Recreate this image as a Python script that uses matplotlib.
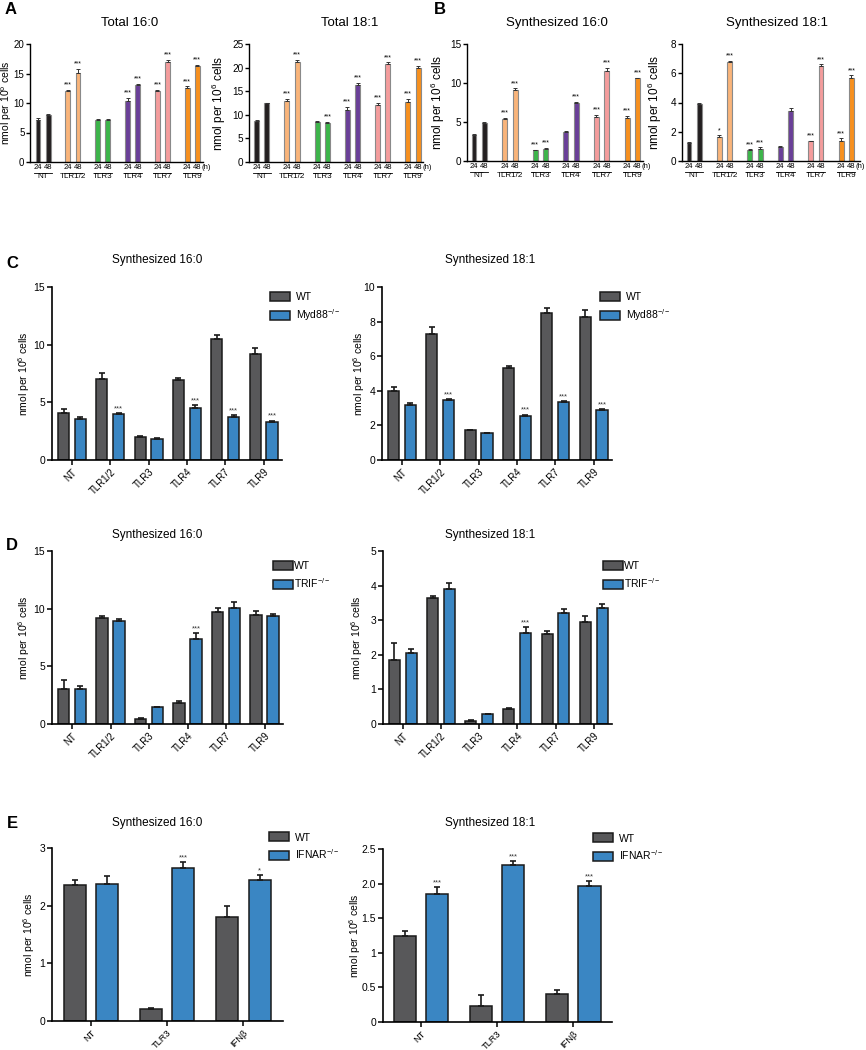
import matplotlib
matplotlib.use('Agg')
import matplotlib.pyplot as plt
import matplotlib.transforms as mtransforms
import numpy as np

plt.rcParams['font.family'] = ['Liberation Sans', 'DejaVu Sans']
plt.rcParams['mathtext.default'] = 'regular'

W, H = 866, 1050

# ---------------- data: panels A / B (24 h and 48 h) ----------------
groups_ab = ['NT', 'TLR1/2', 'TLR3', 'TLR4', 'TLR7', 'TLR9']
colors_ab = ['#231f20', '#f9b47a', '#3cb54a', '#6a3f98', '#f49c9c', '#f7901e']

tot160_24 = [7.2, 12.0, 7.2, 10.3, 12.0, 12.5]
tot160_48 = [8.0, 15.1, 7.1, 13.0, 17.0, 16.3]
tot160_e24 = [0.3, 0.25, 0.15, 0.6, 0.25, 0.3]
tot160_e48 = [0.15, 0.7, 0.2, 0.2, 0.35, 0.15]
tot160_s24 = ['', '***', '', '***', '***', '***']
tot160_s48 = ['', '***', '', '***', '***', '***']

tot181_24 = [8.7, 13.0, 8.5, 11.0, 12.1, 12.8]
tot181_48 = [12.4, 21.2, 8.2, 16.4, 20.7, 20.0]
tot181_e24 = [0.3, 0.3, 0.2, 0.6, 0.4, 0.5]
tot181_e48 = [0.15, 0.5, 0.3, 0.4, 0.4, 0.3]
tot181_s24 = ['', '***', '', '***', '***', '***']
tot181_s48 = ['', '***', '***', '***', '***', '***']

syn160_24 = [3.3, 5.4, 1.35, 3.7, 5.7, 5.5]
syn160_48 = [4.9, 9.1, 1.55, 7.4, 11.6, 10.6]
syn160_e24 = [0.15, 0.15, 0.1, 0.2, 0.2, 0.3]
syn160_e48 = [0.15, 0.2, 0.1, 0.15, 0.3, 0.1]
syn160_s24 = ['', '***', '***', '', '***', '***']
syn160_s48 = ['', '***', '***', '***', '***', '***']

syn181_24 = [1.25, 1.65, 0.75, 0.95, 1.35, 1.4]
syn181_48 = [3.9, 6.75, 0.85, 3.45, 6.5, 5.7]
syn181_e24 = [0.05, 0.1, 0.05, 0.05, 0.05, 0.15]
syn181_e48 = [0.1, 0.1, 0.08, 0.2, 0.1, 0.15]
syn181_s24 = ['', '*', '***', '', '***', '***']
syn181_s48 = ['', '***', '***', '', '***', '***']

# ---------------- data: panel C (Myd88) ----------------
groups_tlr = ['NT', 'TLR1/2', 'TLR3', 'TLR4', 'TLR7', 'TLR9']
c160_wt = [4.05, 7.05, 1.96, 6.92, 10.5, 9.2]
c160_wt_e = [0.35, 0.5, 0.08, 0.2, 0.37, 0.52]
c160_ko = [3.55, 3.95, 1.85, 4.47, 3.75, 3.3]
c160_ko_e = [0.15, 0.1, 0.08, 0.29, 0.15, 0.12]
c160_sig = ['', '***', '', '***', '***', '***']

c181_wt = [3.98, 7.31, 1.71, 5.31, 8.48, 8.25]
c181_wt_e = [0.25, 0.36, 0.03, 0.13, 0.33, 0.42]
c181_ko = [3.17, 3.46, 1.56, 2.56, 3.33, 2.87]
c181_ko_e = [0.15, 0.07, 0.02, 0.06, 0.06, 0.05]
c181_sig = ['', '***', '', '***', '***', '***']

# ---------------- data: panel D (TRIF) ----------------
d160_wt = [3.03, 9.2, 0.4, 1.79, 9.72, 9.49]
d160_wt_e = [0.8, 0.17, 0.1, 0.2, 0.35, 0.29]
d160_ko = [3.03, 8.91, 1.5, 7.41, 10.1, 9.37]
d160_ko_e = [0.26, 0.23, 0.0, 0.5, 0.49, 0.18]
d160_sig = ['', '', '', '***', '', '']

d181_wt = [1.84, 3.65, 0.1, 0.43, 2.59, 2.95]
d181_wt_e = [0.51, 0.05, 0.02, 0.04, 0.09, 0.16]
d181_ko = [2.04, 3.9, 0.3, 2.64, 3.2, 3.35]
d181_ko_e = [0.13, 0.17, 0.0, 0.16, 0.13, 0.11]
d181_sig = ['', '', '', '***', '', '']

# ---------------- data: panel E (IFNAR) ----------------
groups_e = ['NT', 'TLR3', 'IFNβ']
e160_wt = [2.36, 0.21, 1.81]
e160_wt_e = [0.09, 0.02, 0.19]
e160_ko = [2.37, 2.65, 2.44]
e160_ko_e = [0.15, 0.11, 0.09]
e160_sig = ['', '***', '*']

e181_wt = [1.25, 0.23, 0.4]
e181_wt_e = [0.07, 0.16, 0.06]
e181_ko = [1.85, 2.27, 1.96]
e181_ko_e = [0.1, 0.05, 0.08]
e181_sig = ['***', '***', '***']

YLAB = 'nmol per 10$^6$ cells'

fig = plt.figure(figsize=(W / 100, H / 100), dpi=100)


def add_ax(x0, y0, x1, y1):
    return fig.add_axes([x0 / W, 1 - y1 / H, (x1 - x0) / W, (y1 - y0) / H])


def ftext(x, y, s, **kw):
    fig.text(x / W, 1 - y / H, s, **kw)


def style(ax, lw=1.0):
    for sp in ['top', 'right']:
        ax.spines[sp].set_visible(False)
    for sp in ['left', 'bottom']:
        ax.spines[sp].set_linewidth(lw)


def draw_ab(ax, v24, v48, e24, e48, s24, s48, ymax, yticks, xlim, labx,
            labfs=8.5, off=0.17, bw=0.16):
    x = np.arange(len(groups_ab))
    for xs, v, e, s in ((x - off, v24, e24, s24), (x + off, v48, e48, s48)):
        ax.bar(xs, v, width=bw, color=colors_ab, edgecolor='#8a8a8a',
               linewidth=0.8, zorder=2)
        ax.errorbar(xs, v, yerr=[np.zeros(len(v)), e], fmt='none',
                    ecolor='#333333', elinewidth=0.7, capsize=1.3,
                    capthick=0.7, zorder=3)
        for xi, vi, ei, si in zip(xs, v, e, s):
            if si:
                ax.text(xi, vi + ei + ymax * 0.012, si, ha='center',
                        va='bottom', fontsize=5)
    ax.set_xlim(*xlim)
    ax.set_ylim(0, ymax)
    ax.set_yticks(yticks)
    ax.set_xticks([])
    ax.tick_params(axis='y', labelsize=7.2, length=3, width=1, pad=1)
    style(ax)
    trans = mtransforms.blended_transform_factory(ax.transData, ax.transAxes)
    for xi, g in zip(x, groups_ab):
        ax.text(xi - off, -0.02, '24', transform=trans, ha='center',
                va='top', fontsize=5.5)
        ax.text(xi + off, -0.02, '48', transform=trans, ha='center',
                va='top', fontsize=5.5)
        ax.plot([xi - off - 0.13, xi + off + 0.13], [-0.09, -0.09],
                transform=trans, clip_on=False, color='k', lw=0.6)
        ax.text(xi, -0.095, g, transform=trans, ha='center', va='top',
                fontsize=5.8)
    ax.text(x[-1] + off + 0.13, -0.02, '(h)', transform=trans,
            ha='left', va='top', fontsize=5.5)
    ax.set_ylabel(YLAB, fontsize=labfs)
    ax.yaxis.set_label_coords(labx, 0.5)


def draw_pair(ax, groups, wt, wt_e, ko, ko_e, sig, ko_name, ymax, yticks,
              yticklabels, xlim, labx, leg_xy, leg_pad, width=0.29, off=0.22,
              xfs=7):
    x = np.arange(len(groups))
    ax.bar(x - off, wt, width=width, color='#58585a', edgecolor='#1a1a1a',
           linewidth=1.1, label='WT', zorder=2)
    ax.bar(x + off, ko, width=width, color='#3a86c3', edgecolor='#1a1a1a',
           linewidth=1.1, label=ko_name, zorder=2)
    for xs, v, e in ((x - off, wt, wt_e), (x + off, ko, ko_e)):
        ax.errorbar(xs, v, yerr=[np.zeros(len(v)), e], fmt='none',
                    ecolor='#1a1a1a', elinewidth=1.2, capsize=2.5,
                    capthick=1.2, zorder=3)
    for xi, vi, ei, si in zip(x + off, ko, ko_e, sig):
        if si:
            ax.text(xi, vi + ei + ymax * 0.005, si, ha='center', va='bottom',
                    fontsize=5.5, color='#333333')
    ax.set_xlim(*xlim)
    ax.set_ylim(0, ymax)
    ax.set_yticks(yticks, yticklabels)
    ax.set_xticks(x, groups, rotation=45, ha='right', rotation_mode='anchor')
    ax.tick_params(axis='x', labelsize=xfs, length=3.5, width=1.1, pad=1.5)
    ax.tick_params(axis='y', labelsize=7.5, length=3.5, width=1.1, pad=1.5)
    style(ax, 1.2)
    ax.set_ylabel(YLAB, fontsize=7.5)
    ax.yaxis.set_label_coords(labx, 0.5)
    ax.legend(loc='upper left', bbox_to_anchor=leg_xy, borderaxespad=0,
              frameon=False, fontsize=7.5, handlelength=1.9,
              handleheight=0.95, labelspacing=0.45, handletextpad=leg_pad,
              borderpad=0)


# ---------------- panel A / B ----------------
ax = add_ax(30, 44, 203, 162)
draw_ab(ax, tot160_24, tot160_48, tot160_e24, tot160_e48, tot160_s24,
        tot160_s48, 20, [0, 5, 10, 15, 20], (-0.44, 5.36), -0.09, labfs=7.5)
ax.tick_params(axis='y', labelsize=7)
ax = add_ax(249, 44, 423, 162)
draw_ab(ax, tot181_24, tot181_48, tot181_e24, tot181_e48, tot181_s24,
        tot181_s48, 25, [0, 5, 10, 15, 20, 25], (-0.42, 5.33), -0.12)
ax = add_ax(467, 44, 643, 161)
draw_ab(ax, syn160_24, syn160_48, syn160_e24, syn160_e48, syn160_s24,
        syn160_s48, 15, [0, 5, 10, 15], (-0.4, 5.35), -0.114)
ax = add_ax(682, 44, 860, 161)
draw_ab(ax, syn181_24, syn181_48, syn181_e24, syn181_e48, syn181_s24,
        syn181_s48, 8, [0, 2, 4, 6, 8], (-0.4, 5.45), -0.1)

# ---------------- panel C ----------------
ax = add_ax(52, 287, 282, 460)
draw_pair(ax, groups_tlr, c160_wt, c160_wt_e, c160_ko, c160_ko_e, c160_sig,
          'Myd88$^{-/-}$', 15, [0, 5, 10, 15], ['0', '5', '10', '15'],
          (-0.52, 5.48), -0.087, (0.947, 0.97), 0.6)
ax = add_ax(382, 287, 612, 460)
draw_pair(ax, groups_tlr, c181_wt, c181_wt_e, c181_ko, c181_ko_e, c181_sig,
          'Myd88$^{-/-}$', 10, [0, 2, 4, 6, 8, 10],
          ['0', '2', '4', '6', '8', '10'],
          (-0.52, 5.48), -0.065, (0.947, 0.97), 0.6)

# ---------------- panel D ----------------
ax = add_ax(52, 551, 283, 724)
draw_pair(ax, groups_tlr, d160_wt, d160_wt_e, d160_ko, d160_ko_e, d160_sig,
          'TRIF$^{-/-}$', 15, [0, 5, 10, 15], ['0', '5', '10', '15'],
          (-0.52, 5.48), -0.087, (0.957, 0.94), 0.15)
ax = add_ax(383, 551, 612, 724)
draw_pair(ax, groups_tlr, d181_wt, d181_wt_e, d181_ko, d181_ko_e, d181_sig,
          'TRIF$^{-/-}$', 5, [0, 1, 2, 3, 4, 5], ['0', '1', '2', '3', '4', '5'],
          (-0.52, 5.48), -0.079, (0.96, 0.94), 0.15)

# ---------------- panel E ----------------
ax = add_ax(52, 848, 283, 1021)
draw_pair(ax, groups_e, e160_wt, e160_wt_e, e160_ko, e160_ko_e, e160_sig,
          'IFNAR$^{-/-}$', 3, [0, 1, 2, 3], ['0', '1', '2', '3'],
          (-0.51, 2.52), -0.065, (0.94, 1.09), 0.6, width=0.29, off=0.214,
          xfs=6.7)
ax = add_ax(383, 849, 612, 1022)
draw_pair(ax, groups_e, e181_wt, e181_wt_e, e181_ko, e181_ko_e, e181_sig,
          'IFNAR$^{-/-}$', 2.5, [0, 0.5, 1, 1.5, 2.0, 2.5],
          ['0', '0.5', '1', '1.5', '2.0', '2.5'],
          (-0.5, 2.51), -0.087, (0.917, 1.09), 0.6, width=0.29, off=0.214,
          xfs=6.7)

# ---------------- titles and panel letters ----------------
for x, y, s, fs in [(130, 23, 'Total 16:0', 9.5), (350, 23, 'Total 18:1', 9.5),
                    (557, 23, 'Synthesized 16:0', 9.5),
                    (777, 23, 'Synthesized 18:1', 9.5),
                    (157, 260, 'Synthesized 16:0', 8.5),
                    (490, 260, 'Synthesized 18:1', 8.5),
                    (157, 535, 'Synthesized 16:0', 8.5),
                    (490, 535, 'Synthesized 18:1', 8.5),
                    (157, 823, 'Synthesized 16:0', 8.5),
                    (490, 823, 'Synthesized 18:1', 8.5)]:
    ftext(x, y, s, ha='center', va='center', fontsize=fs)

for x, y, s in [(11, 10, 'A'), (440, 10, 'B'), (12, 264, 'C'),
                (12, 546, 'D'), (12, 823, 'E')]:
    ftext(x, y, s, ha='center', va='center', fontsize=12, fontweight='bold')

fig.savefig('out.png', dpi=100)
